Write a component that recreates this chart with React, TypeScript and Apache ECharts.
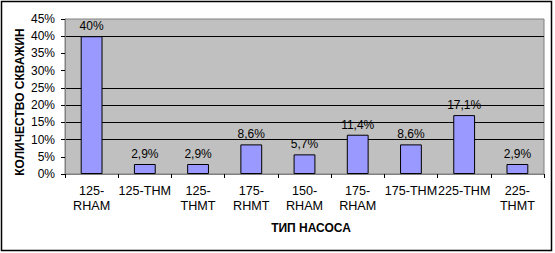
import React, { useEffect, useRef } from "react";
import * as echarts from "echarts";

const categories = [
  "125-\nRHAM",
  "125-THM",
  "125-\nTHMT",
  "175-\nRHMT",
  "150-\nRHAM",
  "175-\nRHAM",
  "175-THM",
  "225-THM",
  "225-\nTHMT",
];
const shares = [40, 2.9, 2.9, 8.6, 5.7, 11.4, 8.6, 17.1, 2.9];
const yTicks = { min: 0, max: 45, interval: 5 };
const yTitle = "КОЛИЧЕСТВО СКВАЖИН";
const xTitle = "ТИП НАСОСА";

const FONT = "'Liberation Sans', Arial, sans-serif";
const NONE = "rgba(0,0,0,0)";

export default function App() {
  const ref = useRef<HTMLDivElement>(null);
  useEffect(() => {
    if (!ref.current) return;
    const chart = echarts.init(ref.current, null, { renderer: "svg" });
    chart.setOption({
      animation: false,
      backgroundColor: "#ffffff",
      textStyle: { fontFamily: FONT },
      grid: {
        left: 65,
        right: 11,
        top: 19,
        bottom: 79,
        show: true,
        backgroundColor: "#C0C0C0",
        borderColor: "#808080",
        borderWidth: 1,
        outerBoundsMode: "none",
        containLabel: false,
      },
      xAxis: {
        type: "category",
        data: categories,
        axisLine: { show: true, lineStyle: { color: "#808080", width: 1 } },
        axisTick: {
          show: true,
          alignWithLabel: false,
          inside: false,
          length: 4,
          lineStyle: { color: "#000" },
        },
        axisLabel: {
          color: "#000",
          fontSize: 12.6,
          fontFamily: FONT,
          lineHeight: 15,
          margin: 9,
          interval: 0,
        },
        splitLine: { show: false },
      },
      yAxis: {
        type: "value",
        min: yTicks.min,
        max: yTicks.max,
        interval: yTicks.interval,
        axisLine: { show: true, lineStyle: { color: "#808080", width: 1 } },
        axisTick: { show: true, inside: false, length: 4, lineStyle: { color: "#000" } },
        axisLabel: {
          color: "#000",
          fontSize: 12,
          fontFamily: FONT,
          margin: 10,
          formatter: "{value}%",
        },
        splitLine: {
          show: true,
          lineStyle: {
            width: 1,
            color: [NONE, NONE, "#000", "#000", "#000", "#000", NONE, NONE, "#000", NONE],
          },
        },
      },
      series: [
        {
          type: "bar",
          data: shares,
          barWidth: "41%",
          itemStyle: { color: "#9999FF", borderColor: "#000", borderWidth: 1 },
          label: {
            show: true,
            position: "top",
            distance: 4,
            color: "#000",
            fontSize: 12,
            fontFamily: FONT,
            formatter: (p: any) => String(p.value).replace(".", ",") + "%",
          },
        },
      ],
      graphic: [
        {
          type: "rect",
          shape: { x: 1.5, y: 1.5, width: 550, height: 249 },
          style: { fill: NONE, stroke: "#000", lineWidth: 1.5 },
          silent: true,
        },
        {
          type: "text",
          x: 20,
          y: 102,
          rotation: Math.PI / 2,
          style: {
            text: yTitle,
            font: `bold 12px ${FONT}`,
            fill: "#000",
            align: "center",
            verticalAlign: "middle",
          },
        },
        {
          type: "text",
          x: 311,
          y: 228,
          style: {
            text: xTitle,
            font: `bold 12px ${FONT}`,
            fill: "#000",
            align: "center",
            verticalAlign: "middle",
          },
        },
      ],
    });
    return () => chart.dispose();
  }, []);
  return (
    <div
      ref={ref}
      style={{ position: "fixed", left: 0, top: 0, width: 555, height: 253 }}
    />
  );
}
